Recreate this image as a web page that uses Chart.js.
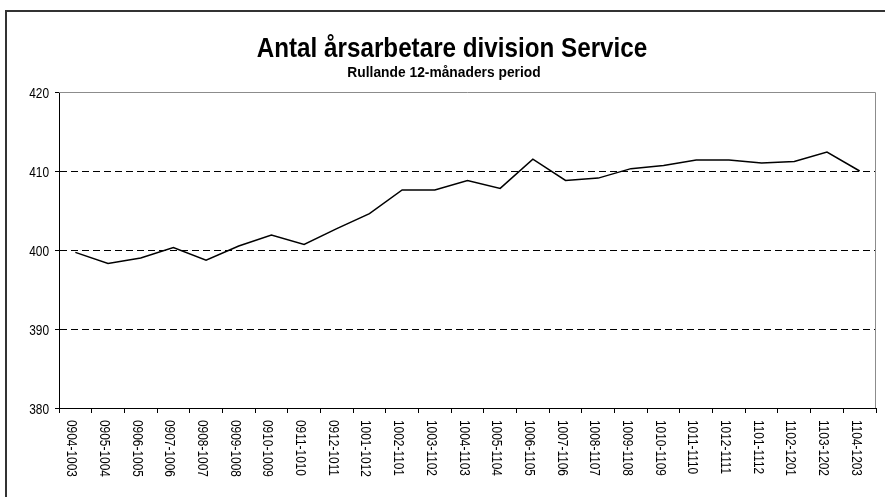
<!DOCTYPE html>
<html>
<head>
<meta charset="utf-8">
<script src="https://cdn.jsdelivr.net/npm/chart.js@4/dist/chart.umd.min.js"></script>
<style>
  html, body { margin: 0; padding: 0; background: #fff; overflow: hidden; }
  #wrap { position: relative; width: 885px; height: 497px; }
  #frame { position: absolute; left: 5px; top: 10px; width: 900px; height: 500px;
           border-left: 2px solid #333; border-top: 2px solid #333; }
  canvas { position: absolute; left: 0; top: 0; }
</style>
</head>
<body>
<div id="wrap">
  <div id="frame"></div>
  <canvas id="chart" width="885" height="497"></canvas>
</div>
<script>
// Rolling 12-month periods (YYMM-YYMM)
const periods = [
  '0904-1003', '0905-1004', '0906-1005', '0907-1006', '0908-1007',
  '0909-1008', '0910-1009', '0911-1010', '0912-1011', '1001-1012',
  '1002-1101', '1003-1102', '1004-1103', '1005-1104', '1006-1105',
  '1007-1106', '1008-1107', '1009-1108', '1010-1109', '1011-1110',
  '1012-1111', '1101-1112', '1102-1201', '1103-1202', '1104-1203'
];

// Full-time equivalents, division Service
const fte = [
  399.7, 398.3, 399.0, 400.3, 398.7,
  400.5, 401.9, 400.7, 402.7, 404.6,
  407.6, 407.6, 408.8, 407.8, 411.5,
  408.8, 409.1, 410.3, 410.7, 411.4,
  411.4, 411.0, 411.2, 412.4, 410.0
];

const yTicks = [380, 390, 400, 410, 420];

const chartTitle = 'Antal årsarbetare division Service';
const chartSubtitle = 'Rullande 12-månaders period';

const FONT = '"Liberation Sans", Arial, Helvetica, sans-serif';

// Draw text squeezed horizontally (condensed look)
function condensedText(ctx, text, x, y, sx, align, angle) {
  ctx.save();
  ctx.translate(x, y);
  if (angle) ctx.rotate(angle);
  ctx.scale(sx, 1);
  ctx.textAlign = align;
  ctx.fillText(text, 0, 0);
  ctx.restore();
}

// Titles, plot frame, axis labels
const decor = {
  id: 'decor',
  beforeDatasetsDraw(chart) {
    const { ctx, chartArea: a } = chart;
    ctx.save();
    ctx.strokeStyle = '#8c8c8c';
    ctx.lineWidth = 1;
    ctx.beginPath();
    ctx.moveTo(a.left, a.top + 0.5);
    ctx.lineTo(a.right - 0.5, a.top + 0.5);
    ctx.lineTo(a.right - 0.5, a.bottom);
    ctx.stroke();
    ctx.restore();
  },
  afterDraw(chart) {
    const { ctx, chartArea: a, scales: { x, y } } = chart;
    ctx.save();
    ctx.fillStyle = '#000';
    ctx.textBaseline = 'alphabetic';

    ctx.font = 'bold 28.5px ' + FONT;
    condensedText(ctx, chartTitle, 452, 57, 0.85, 'center');
    ctx.font = 'bold 15px ' + FONT;
    condensedText(ctx, chartSubtitle, 444, 77, 0.92, 'center');

    ctx.font = '14.5px ' + FONT;
    yTicks.forEach(v => {
      condensedText(ctx, String(v), a.left - 10, y.getPixelForValue(v) + 5.5, 0.82, 'right');
    });

    periods.forEach((label, i) => {
      const px = x.getPixelForValue(i);
      condensedText(ctx, label, px - 8, a.bottom + 12, 0.82, 'left', Math.PI / 2);
    });
    ctx.restore();
  }
};

new Chart(document.getElementById('chart'), {
  type: 'line',
  data: {
    labels: periods,
    datasets: [{
      data: fte,
      borderColor: '#000',
      borderWidth: 1.5,
      pointRadius: 0,
      fill: false,
      tension: 0
    }]
  },
  options: {
    responsive: false,
    animation: false,
    layout: { padding: { top: 92, right: 9, left: 0, bottom: 0 } },
    plugins: {
      legend: { display: false },
      tooltip: { enabled: false },
      title: { display: false }
    },
    scales: {
      x: {
        type: 'category',
        offset: true,
        ticks: { display: false },
        grid: {
          offset: true,
          drawOnChartArea: false,
          drawTicks: true,
          tickLength: 5,
          tickColor: '#000',
          tickWidth: 1
        },
        border: { display: true, color: '#000', width: 1 },
        afterFit(scale) { scale.height = 89; }
      },
      y: {
        min: 380,
        max: 420,
        afterBuildTicks(scale) { scale.ticks = yTicks.map(v => ({ value: v })); },
        ticks: { display: false },
        grid: {
          color: c => (c.tick && (c.tick.value === 380 || c.tick.value === 420)) ? 'rgba(0,0,0,0)' : '#000',
          lineWidth: 1,
          drawTicks: true,
          tickLength: 4,
          tickColor: '#000',
          tickWidth: 1,
          tickBorderDash: []
        },
        border: { display: true, color: '#000', width: 1, dash: [7, 4] },
        afterFit(scale) { scale.width = 59; }
      }
    }
  },
  plugins: [decor]
});
</script>
</body>
</html>
